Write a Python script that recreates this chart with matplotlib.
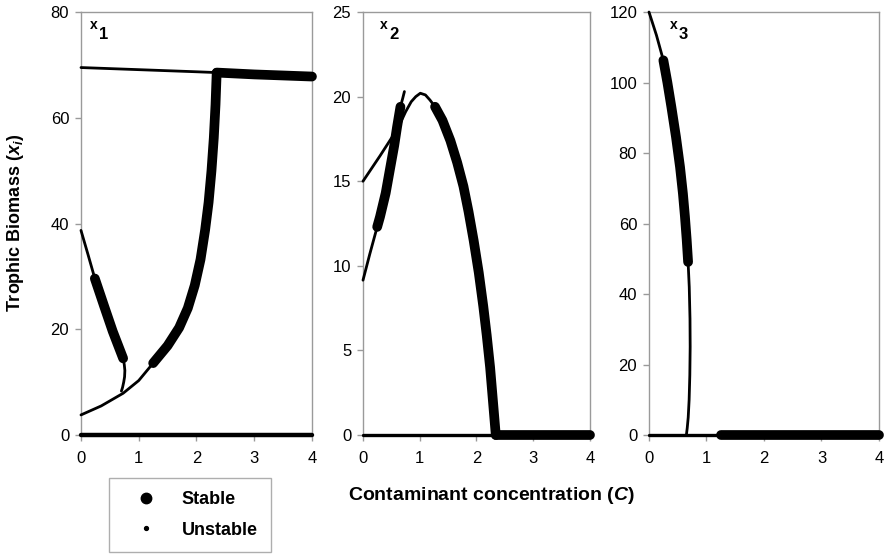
import matplotlib
matplotlib.use("Agg")
import matplotlib.pyplot as plt
from matplotlib.lines import Line2D

plt.rcParams["font.family"] = ["Liberation Sans", "DejaVu Sans"]
plt.rcParams["mathtext.fontset"] = "custom"
plt.rcParams["mathtext.it"] = "Liberation Sans:bold:italic"
plt.rcParams["mathtext.rm"] = "Liberation Sans:bold"

# ---------------- datos ----------------
# x1
x1_top_c_uns = [0.0, 1.0, 2.0, 2.35]
x1_top_y_uns = [69.5, 69.1, 68.7, 68.55]
x1_top_c_st = [2.35, 3.0, 4.0]
x1_top_y_st = [68.55, 68.2, 67.8]
x1_low_c_uns = [0.0, 0.35, 0.73, 1.0, 1.25]
x1_low_y_uns = [3.8, 5.5, 7.9, 10.3, 13.6]
x1_low_c_st = [1.25, 1.5, 1.7, 1.85, 1.97, 2.07, 2.15, 2.21, 2.26, 2.3, 2.33, 2.35]
x1_low_y_st = [13.6, 16.9, 20.3, 24.0, 28.3, 33.2, 38.8, 44.0, 50.0, 56.2, 62.5, 68.5]
x1_fold_c_uns1 = [0.0, 0.12, 0.24]
x1_fold_y_uns1 = [38.7, 34.2, 29.6]
x1_fold_c_st = [0.24, 0.4, 0.55, 0.73]
x1_fold_y_st = [29.6, 24.4, 19.6, 14.5]
x1_fold_c_uns2 = [0.73, 0.75, 0.76, 0.755, 0.74, 0.72, 0.7]
x1_fold_y_uns2 = [14.5, 13.3, 12.2, 11.0, 10.0, 9.0, 8.3]
x1_zero_c = [0.0, 4.0]
x1_zero_y = [0.0, 0.0]

# x2
x2_arc_c_uns = [0.0, 0.3, 0.55, 0.66, 0.75, 0.85, 0.93, 1.01, 1.1, 1.18, 1.27]
x2_arc_y_uns = [15.0, 16.5, 17.8, 18.45, 19.1, 19.7, 20.0, 20.2, 20.1, 19.8, 19.4]
x2_arc_c_st = [1.27, 1.4, 1.54, 1.66, 1.77, 1.86, 1.95, 2.04, 2.12, 2.18, 2.24, 2.29, 2.34]
x2_arc_y_st = [19.4, 18.6, 17.4, 16.1, 14.7, 13.2, 11.5, 9.6, 7.6, 5.9, 4.0, 2.0, 0.0]
x2_rise_c_uns1 = [0.0, 0.12, 0.25]
x2_rise_y_uns1 = [9.15, 10.7, 12.3]
x2_rise_c_st = [0.25, 0.3, 0.4, 0.48, 0.55, 0.6, 0.66]
x2_rise_y_st = [12.3, 12.9, 14.3, 15.8, 17.1, 18.2, 19.4]
x2_rise_c_uns2 = [0.66, 0.7, 0.73]
x2_rise_y_uns2 = [19.4, 19.9, 20.3]
x2_zero_c_uns = [0.0, 2.35]
x2_zero_c_st = [2.35, 4.0]

# x3
x3_c_uns1 = [0.0, 0.13, 0.25]
x3_y_uns1 = [120.0, 113.4, 106.3]
x3_c_st = [0.25, 0.32, 0.39, 0.47, 0.54, 0.59, 0.625, 0.655, 0.68]
x3_y_st = [106.3, 100.0, 93.0, 84.5, 76.0, 68.5, 62.0, 55.5, 49.1]
x3_c_uns2 = [0.68, 0.7, 0.713, 0.716, 0.71, 0.698, 0.682, 0.665, 0.65]
x3_y_uns2 = [49.1, 42.0, 33.0, 25.0, 17.0, 10.0, 5.0, 2.0, 0.0]
x3_zero_c_uns = [0.0, 1.25]
x3_zero_c_st = [1.25, 4.0]

y_limits = [(0, 80), (0, 25), (0, 120)]
y_steps = [20, 5, 20]
panel_names = ["1", "2", "3"]

# ---------------- figura ----------------
fig = plt.figure(figsize=(8.86, 5.57), dpi=100)
boxes = [
    [0.0914, 0.219, 0.2607, 0.7594],
    [0.4097, 0.219, 0.2562, 0.7594],
    [0.7325, 0.219, 0.2596, 0.7594],
]
axes = [fig.add_axes(b) for b in boxes]

THIN = 2.0
THICK = 7.0
gray = "#9a9a9a"


def seg(ax, c, y, lw):
    ax.plot(c, y, color="black", lw=lw, solid_capstyle="round",
            solid_joinstyle="round", clip_on=False, zorder=3)


ax = axes[0]
seg(ax, x1_zero_c, x1_zero_y, 3.2)
seg(ax, x1_top_c_uns, x1_top_y_uns, THIN)
seg(ax, x1_top_c_st, x1_top_y_st, THICK)
seg(ax, x1_low_c_uns, x1_low_y_uns, THIN)
seg(ax, x1_low_c_st, x1_low_y_st, THICK)
seg(ax, x1_fold_c_uns1, x1_fold_y_uns1, THIN)
seg(ax, x1_fold_c_st, x1_fold_y_st, THICK)
seg(ax, x1_fold_c_uns2, x1_fold_y_uns2, THIN)

ax = axes[1]
seg(ax, x2_zero_c_uns, [0, 0], 2.4)
seg(ax, x2_zero_c_st, [0, 0], THICK)
seg(ax, x2_arc_c_uns, x2_arc_y_uns, THIN)
seg(ax, x2_arc_c_st, x2_arc_y_st, THICK)
seg(ax, x2_rise_c_uns1, x2_rise_y_uns1, THIN)
seg(ax, x2_rise_c_st, x2_rise_y_st, THICK)
seg(ax, x2_rise_c_uns2, x2_rise_y_uns2, THIN)

ax = axes[2]
seg(ax, x3_zero_c_uns, [0, 0], 2.4)
seg(ax, x3_zero_c_st, [0, 0], THICK)
seg(ax, x3_c_uns1, x3_y_uns1, THIN)
seg(ax, x3_c_st, x3_y_st, THICK)
seg(ax, x3_c_uns2, x3_y_uns2, THIN)

label_x = [0.039, 0.075, 0.09]
for ax, lim, step, name, lx in zip(axes, y_limits, y_steps, panel_names, label_x):
    ax.set_xlim(0, 4)
    ax.set_ylim(*lim)
    ax.set_xticks(range(0, 5))
    ax.set_yticks(range(lim[0], lim[1] + 1, step))
    for sp in ax.spines.values():
        sp.set_color(gray)
        sp.set_linewidth(1.0)
    ax.tick_params(direction="out", length=4.5, width=1, color=gray,
                   labelsize=12, pad=4)
    ax.tick_params(axis="x", pad=7)
    ax.text(lx, 0.985, "x", transform=ax.transAxes, fontsize=10,
            fontweight="bold", va="top", ha="left")
    ax.text(lx + 0.04, 0.965, name, transform=ax.transAxes, fontsize=12,
            fontweight="bold", va="top", ha="left")

fig.text(0.017, 0.60, r"Trophic Biomass ($x_i$)", rotation=90,
         fontsize=13, fontweight="bold", va="center", ha="center")
fig.text(0.555, 0.111, r"Contaminant concentration ($C$)",
         fontsize=14, fontweight="bold", va="center", ha="center")

handles = [
    Line2D([], [], ls="none", marker="o", ms=7.5, color="black"),
    Line2D([], [], ls="none", marker="o", ms=2.8, color="black"),
]
leg = fig.legend(handles, ["Stable", "Unstable"], loc="center",
                 bbox_to_anchor=(0.2144, 0.0754), frameon=True,
                 fancybox=False, edgecolor=gray, handlelength=2.6,
                 handletextpad=0.7, borderpad=0.75, labelspacing=0.75,
                 borderaxespad=0, prop={"weight": "bold", "size": 13})
leg.get_frame().set_linewidth(1.0)

fig.savefig("out.png", dpi=100)
